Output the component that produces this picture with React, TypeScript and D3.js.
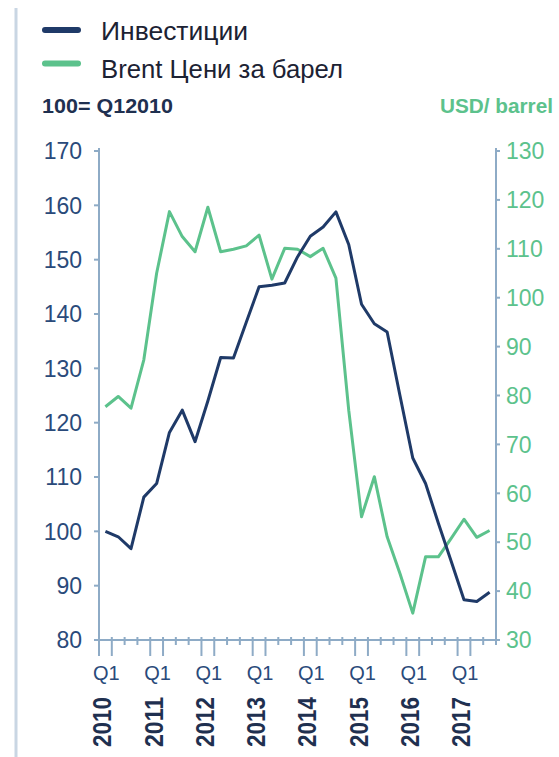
import React from 'react';
import * as d3 from 'd3';

// quarterly series, 2010 Q1 .. 2017 Q3
const years = ['2010', '2011', '2012', '2013', '2014', '2015', '2016', '2017'];
const quarters = ['Q1', 'Q2', 'Q3', 'Q4'];
const investment = [
  100, 99, 96.8, 106.3, 108.8, 118.2, 122.3, 116.5, 124, 132, 131.9, 138.5, 145, 145.3, 145.7, 150.5,
  154.3, 156, 158.8, 152.8, 141.8, 138.2, 136.7, 125, 113.5, 108.8, 101.5, 94.5, 87.4, 87.1, 88.8
];
const brent = [
  77.7, 79.8, 77.4, 87.3, 105, 117.6, 112.5, 109.4, 118.5, 109.4, 109.9, 110.6, 112.8, 103.8, 110.1, 109.9,
  108.4, 110.1, 104, 77, 55.2, 63.4, 51.1, 43.6, 35.5, 47, 47, 50.8, 54.7, 51, 52.4
];
const leftTicks = [80, 90, 100, 110, 120, 130, 140, 150, 160, 170];
const rightTicks = [30, 40, 50, 60, 70, 80, 90, 100, 110, 120, 130];
const seriesNames = ['Инвестиции', 'Brent Цени за барел'];

const NAVY = '#1f3a68';
const GREEN = '#5cc28c';
const AXIS = '#8eabc6';
const FONT = "'Liberation Sans', Arial, sans-serif";

export default function App() {
  const width = 559;
  const height = 757;
  const plot = { left: 99, right: 496, top: 151, bottom: 640 };

  const categories = years.flatMap((y) => quarters.map((q) => y + q)).slice(0, investment.length);

  const x = d3.scaleBand().domain(categories).range([plot.left, plot.right]);
  const bw = x.bandwidth();
  const cx = (i: number) => (x(categories[i]) as number) + bw / 2;
  const yLeft = d3.scaleLinear().domain([80, 170]).range([plot.bottom, plot.top]);
  const yRight = d3.scaleLinear().domain([30, 130]).range([plot.bottom, plot.top]);

  const invLine = d3.line<number>().x((d, i) => cx(i)).y((d) => yLeft(d));
  const brentLine = d3.line<number>().x((d, i) => cx(i)).y((d) => yRight(d));

  // category boundaries for x ticks
  const bounds = d3.range(categories.length + 1).map((k) => plot.left + k * bw);

  return (
    <svg
      width={width}
      height={height}
      style={{ position: 'absolute', left: 0, top: 0, background: '#fff' }}
      fontFamily={FONT}
    >
      <line x1={16} x2={16} y1={8} y2={height} stroke="#c9d6e3" strokeWidth={3} />

      {/* legend */}
      <line x1={45} x2={78} y1={30} y2={30} stroke={NAVY} strokeWidth={6} strokeLinecap="round" />
      <text x={101} y={40} fontSize={25} fill="#1c2233" textLength={147} lengthAdjust="spacingAndGlyphs">
        {seriesNames[0]}
      </text>
      <line x1={45} x2={78} y1={63.5} y2={63.5} stroke={GREEN} strokeWidth={6} strokeLinecap="round" />
      <text x={101} y={78} fontSize={25} fill="#1c2233" textLength={242} lengthAdjust="spacingAndGlyphs">
        {seriesNames[1]}
      </text>
      <text x={42} y={113} fontSize={21} fontWeight="bold" fill="#1f3050" textLength={131} lengthAdjust="spacingAndGlyphs">
        100= Q12010
      </text>
      <text x={440} y={113} fontSize={21} fontWeight="bold" fill={GREEN} textLength={113} lengthAdjust="spacingAndGlyphs">
        USD/ barrel
      </text>

      {/* left axis */}
      <line x1={plot.left} x2={plot.left} y1={plot.top - 3} y2={plot.bottom} stroke={AXIS} strokeWidth={2} />
      {leftTicks.map((t) => (
        <g key={'l' + t}>
          <line x1={plot.left - 5} x2={plot.left} y1={yLeft(t)} y2={yLeft(t)} stroke={AXIS} strokeWidth={2} />
          <text x={82} y={yLeft(t)} dy="0.36em" textAnchor="end" fontSize={23} fill="#2a4a7a">
            {t}
          </text>
        </g>
      ))}

      {/* right axis */}
      <line x1={plot.right} x2={plot.right} y1={plot.top - 3} y2={plot.bottom} stroke={AXIS} strokeWidth={2} />
      {rightTicks.map((t) => (
        <g key={'r' + t}>
          <line x1={plot.right} x2={plot.right + 4} y1={yRight(t)} y2={yRight(t)} stroke={AXIS} strokeWidth={2} />
          <text x={506} y={yRight(t)} dy="0.36em" textAnchor="start" fontSize={23} fill={GREEN}>
            {t}
          </text>
        </g>
      ))}

      {/* x axis */}
      <line x1={plot.left} x2={plot.right} y1={plot.bottom} y2={plot.bottom} stroke={AXIS} strokeWidth={2} />
      {bounds.map((bx, k) => {
        const long = k % 4 === 0 || k % 4 === 1;
        return (
          <line
            key={'b' + k}
            x1={bx}
            x2={bx}
            y1={plot.bottom - 3}
            y2={plot.bottom + (long ? 16 : 5)}
            stroke={AXIS}
            strokeWidth={2}
          />
        );
      })}
      {categories.map((c, i) =>
        i % 4 === 0 ? (
          <g key={c}>
            <text x={cx(i) + 1} y={680} textAnchor="middle" fontSize={20} fill="#2a4a7a">
              {quarters[0]}
            </text>
            <text
              transform={`translate(${cx(i) - 3},697) rotate(-90)`}
              textAnchor="end"
              dy="0.36em"
              fontSize={25}
              fontWeight="bold"
              fill="#1f3050"
              textLength={50}
              lengthAdjust="spacingAndGlyphs"
            >
              {years[i / 4]}
            </text>
          </g>
        ) : null
      )}

      {/* series */}
      <path d={brentLine(brent) as string} fill="none" stroke={GREEN} strokeWidth={3} strokeLinejoin="round" />
      <path d={invLine(investment) as string} fill="none" stroke={NAVY} strokeWidth={3} strokeLinejoin="round" />
    </svg>
  );
}
